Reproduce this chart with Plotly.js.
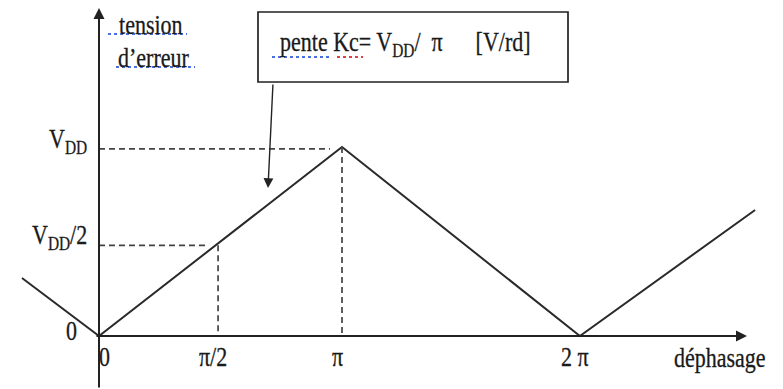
<!DOCTYPE html>
<html><head><meta charset="utf-8">
<script src="https://cdn.plot.ly/plotly-3.0.1.min.js"></script>
<style>html,body{margin:0;padding:0;background:#fff}</style>
</head><body>
<div id="chart" style="width:783px;height:389px"></div>
<script>
// ---- data (phase in units of π, voltage in units of VDD) ----
const curvePhase   = [-0.317, 0, 1, 1.979, 2.70];
const curveVoltage = [0.307, 0, 1, 0, 0.667];
const tickPhase    = [0, 0.5, 1, 2];
const tickLabels   = ['0', 'π/2', 'π', '2 π'];
const levelValues  = [0.99, 0.48];
const levelLabels  = ['V<sub>DD</sub>', 'V<sub>DD</sub>/2'];
const yAxisTitle   = ['tension', 'd\u2019erreur'];
const xAxisTitle   = 'déphasage';
const boxText      = 'pente Kc= V<sub>DD</sub>/\u00a0 π\u00a0\u00a0\u00a0\u00a0\u00a0 [V/rd]';

// ---- geometry helpers (pixel -> data) ----
const W = 783, H = 389, X0 = 99, XU = 243, Y0 = 336, YU = 189;
const xr = [-X0 / XU, (W - X0) / XU];
const yr = [-(H - Y0) / YU, Y0 / YU];
const px = p => (p - X0) / XU;
const py = p => (Y0 - p) / YU;
const font = {family: 'Times New Roman', size: 22, color: '#1a1a1a'};

const traces = [{
  x: curvePhase, y: curveVoltage, mode: 'lines', type: 'scatter',
  line: {color: '#2a2a2a', width: 2}, hoverinfo: 'skip', showlegend: false
}];

const dash = {color: '#444', width: 1.7, dash: '6px,4px'};
const wavyBlue = {color: '#4a6fe0', width: 2, dash: 'dot'};
const shapes = [
  {type: 'line', xref: 'x', yref: 'y', x0: 0, x1: px(330), y0: levelValues[0], y1: levelValues[0], line: dash},
  {type: 'line', xref: 'x', yref: 'y', x0: 0, x1: px(205), y0: levelValues[1], y1: levelValues[1], line: dash},
  {type: 'line', xref: 'x', yref: 'y', x0: tickPhase[1] - 0.01, x1: tickPhase[1] - 0.01, y0: levelValues[1], y1: 0, line: dash},
  {type: 'line', xref: 'x', yref: 'y', x0: tickPhase[2], x1: tickPhase[2], y0: 1, y1: 0, line: dash},
  {type: 'rect', xref: 'x', yref: 'y', x0: px(258), x1: px(568), y0: py(12), y1: py(82),
   line: {color: '#222', width: 1.7}, fillcolor: 'rgba(0,0,0,0)'},
  // spell-check underlines
  {type: 'line', xref: 'x', yref: 'y', x0: px(108), x1: px(187), y0: py(34), y1: py(34), line: wavyBlue},
  {type: 'line', xref: 'x', yref: 'y', x0: px(116), x1: px(195), y0: py(67), y1: py(67), line: wavyBlue},
  {type: 'line', xref: 'x', yref: 'y', x0: px(272), x1: px(330), y0: py(57), y1: py(57), line: wavyBlue},
  {type: 'line', xref: 'x', yref: 'y', x0: px(337), x1: px(363), y0: py(57), y1: py(57), line: {color: '#e04040', width: 2, dash: 'dot'}}
];

const ann = [];
// axes arrows
ann.push({x: 0, y: py(8), xref: 'x', yref: 'y', ax: 0, ay: py(H), axref: 'x', ayref: 'y',
  showarrow: true, arrowhead: 2, arrowsize: 1.1, arrowwidth: 2, arrowcolor: '#222', text: ''});
ann.push({x: px(747), y: 0, xref: 'x', yref: 'y', ax: px(95), ay: 0, axref: 'x', ayref: 'y',
  showarrow: true, arrowhead: 2, arrowsize: 1.1, arrowwidth: 2, arrowcolor: '#222', text: ''});
// slope pointer arrow
ann.push({x: px(268), y: py(188), xref: 'x', yref: 'y', ax: px(273), ay: py(83), axref: 'x', ayref: 'y',
  showarrow: true, arrowhead: 2, arrowsize: 1.4, arrowwidth: 1.4, arrowcolor: '#222', text: ''});
// x tick labels
const tickPx = [104, 213, 337, 575];
tickPhase.forEach((t, i) => ann.push({x: px(tickPx[i]), y: py(356), xref: 'x', yref: 'y',
  text: tickLabels[i], showarrow: false, font: font, xanchor: 'center', yanchor: 'middle'}));
// y level labels
const levelPx = [141, 237];
levelLabels.forEach((l, i) => ann.push({x: px(89), y: py(levelPx[i]), xref: 'x', yref: 'y',
  text: l, showarrow: false, font: font, xanchor: 'right', yanchor: 'middle'}));
ann.push({x: px(71), y: py(330), xref: 'x', yref: 'y', text: '0', showarrow: false, font: font});
// titles
ann.push({x: px(151), y: py(24), xref: 'x', yref: 'y', text: yAxisTitle[0], showarrow: false, font: font});
ann.push({x: px(154), y: py(57), xref: 'x', yref: 'y', text: yAxisTitle[1], showarrow: false, font: font});
ann.push({x: px(720), y: py(357), xref: 'x', yref: 'y', text: xAxisTitle, showarrow: false, font: font});
ann.push({x: px(278), y: py(44), xref: 'x', yref: 'y', text: boxText, showarrow: false, font: font, xanchor: 'left'});

const layout = {
  width: W, height: H, margin: {l: 0, r: 0, t: 0, b: 0},
  paper_bgcolor: '#fff', plot_bgcolor: '#fff',
  xaxis: {range: xr, visible: false, fixedrange: true},
  yaxis: {range: yr, visible: false, fixedrange: true},
  shapes: shapes, annotations: ann, showlegend: false
};
Plotly.newPlot('chart', traces, layout, {staticPlot: true, displayModeBar: false}).then(gd => {
  // the reference lettering is taller than it is wide: stretch annotation text vertically
  gd.querySelectorAll('.annotation-text-g text.annotation-text').forEach(t => {
    if (!t.textContent) return;
    const b = t.getBBox();
    const cy = b.y + b.height / 2;
    t.setAttribute('transform', `translate(0,${cy}) scale(1,1.22) translate(0,${-cy})`);
    t.style.stroke = '#1a1a1a';
    t.style.strokeWidth = '0.25px';
  });
});
</script>
</body></html>
